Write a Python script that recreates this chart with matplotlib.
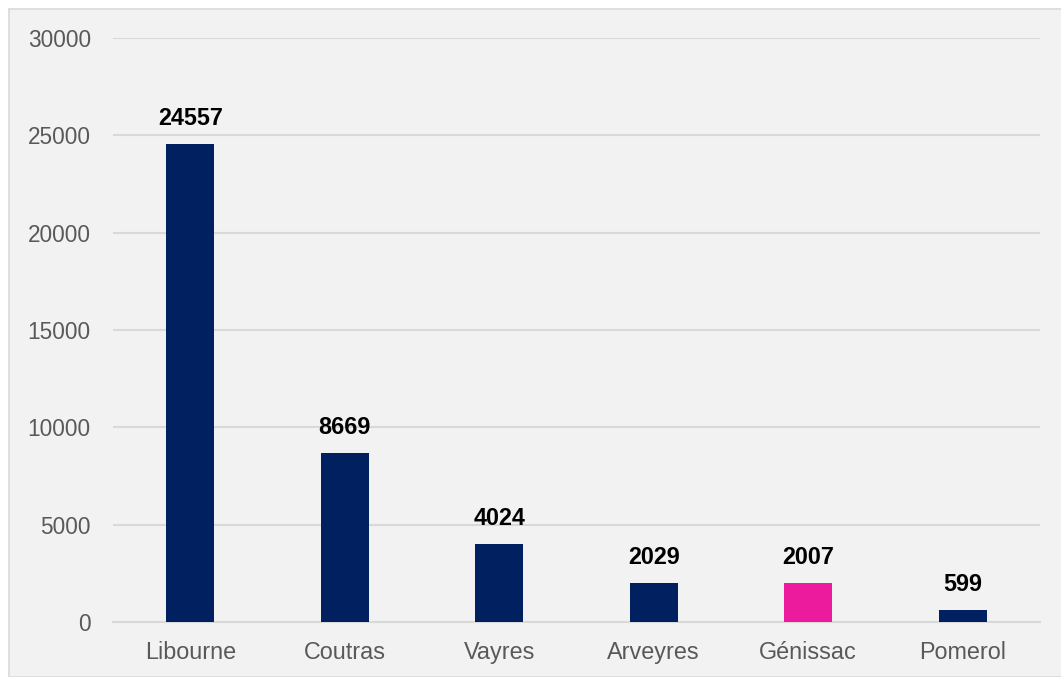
import matplotlib.pyplot as plt
from matplotlib.patches import Rectangle

# Données
communes = ['Libourne', 'Coutras', 'Vayres', 'Arveyres', 'Génissac', 'Pomerol']
valeurs = [24557, 8669, 4024, 2029, 2007, 599]
couleurs = ['#002060', '#002060', '#002060', '#002060', '#EC1A9C', '#002060']
yticks = [0, 5000, 10000, 15000, 20000, 25000, 30000]

plt.rcParams['font.family'] = ['Liberation Sans', 'DejaVu Sans']

fig = plt.figure(figsize=(10.61, 6.77), dpi=100)
fig.patch.set_facecolor('white')

# fond gris du graphique
fond = Rectangle((9 / 1061, 0), 1.0, 1 - 9 / 677, transform=fig.transFigure,
                 facecolor='#f2f2f2', edgecolor='#d9d9d9', linewidth=1.2, zorder=-10)
fig.patches.append(fond)

ax = fig.add_axes([113 / 1061, 1 - 622 / 677, (1040 - 113) / 1061, (622 - 38) / 677])
ax.set_facecolor('none')
ax.set_zorder(1)

x = range(len(communes))
bars = ax.bar(x, valeurs, width=0.31, color=couleurs, zorder=3)

for b, v in zip(bars, valeurs):
    ax.annotate(str(v), (b.get_x() + b.get_width() / 2, v), xytext=(0, 10),
                textcoords='offset points', ha='center', va='bottom',
                fontsize=16.8, fontweight='bold', color='black')

ax.set_xlim(-0.5, len(communes) - 0.5)
ax.set_ylim(0, 30000)
ax.set_yticks(yticks)
ax.set_xticks(list(x))
ax.set_xticklabels(communes)
ax.yaxis.grid(True, color='#d9d9d9', linewidth=1.5, zorder=0)
ax.set_axisbelow(True)

for s in ['top', 'right', 'left']:
    ax.spines[s].set_visible(False)
ax.spines['bottom'].set_color('#d9d9d9')
ax.spines['bottom'].set_linewidth(1.5)

ax.tick_params(axis='y', length=0, labelsize=16.3, labelcolor='#595959', pad=16)
ax.tick_params(axis='x', length=0, labelsize=16.8, labelcolor='#595959', pad=14)

fig.savefig('out.png', dpi=100)
